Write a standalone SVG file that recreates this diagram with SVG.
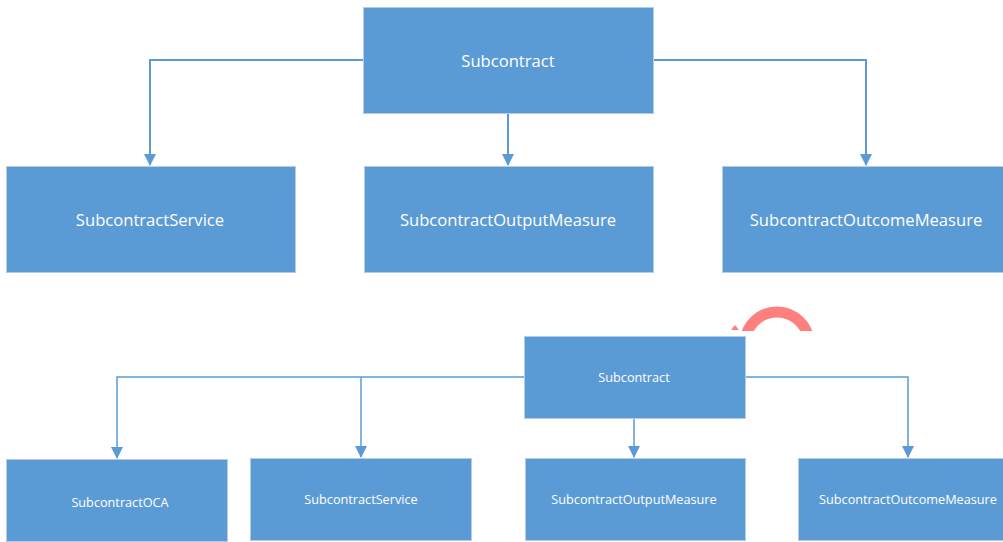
<svg xmlns="http://www.w3.org/2000/svg" width="1003" height="542" viewBox="0 0 1003 542">
<style>
.box{fill:#5B9BD5;stroke:#B4CCE8;stroke-width:1}
.t1{font-family:"Open Sans","Noto Sans",sans-serif;font-size:16.6px;fill:#FFFFFF;text-anchor:middle;dominant-baseline:central}
.t2{font-family:"Open Sans","Noto Sans",sans-serif;font-size:12.7px;fill:#FFFFFF;text-anchor:middle;dominant-baseline:central}
.c{fill:none;stroke:#5B9BD5;stroke-width:2}
.c2{fill:none;stroke:#5B9BD5;stroke-width:1.5}
</style>
<defs>
<marker id="b" markerWidth="12" markerHeight="12" refX="11" refY="6" orient="auto" markerUnits="userSpaceOnUse">
<path d="M0,0 L12,6 L0,12 Z" fill="#5B9BD5"/>
</marker>
<clipPath id="cl"><rect x="700" y="290" width="140" height="41"/></clipPath>
</defs>
<rect width="1003" height="542" fill="#FFFFFF"/>
<g clip-path="url(#cl)">
<circle cx="777" cy="344" r="32" fill="none" stroke="#FF7F7F" stroke-width="11"/>
</g>
<path d="M731,330 L735,325 L739,330 Z" fill="#FF7F7F"/>
<g id="connectors">
<path class="c" d="M363,60 H150 V165" marker-end="url(#b)"/>
<path class="c" d="M508,113 V165" marker-end="url(#b)"/>
<path class="c" d="M653,60 H866 V165" marker-end="url(#b)"/>
<path class="c2" d="M524,377 H117 V458" marker-end="url(#b)"/>
<path class="c2" d="M361,377 V457" marker-end="url(#b)"/>
<path class="c2" d="M634,418 V457" marker-end="url(#b)"/>
<path class="c2" d="M745,377 H908 V457" marker-end="url(#b)"/>
</g>
<g id="n1"><rect class="box" x="363.5" y="7.5" width="290" height="106"/><text class="t1" x="508" y="60">Subcontract</text></g>
<g id="n2"><rect class="box" x="6.5" y="166.5" width="289" height="106"/><text class="t1" x="150" y="219">SubcontractService</text></g>
<g id="n3"><rect class="box" x="364.5" y="166.5" width="289" height="106"/><text class="t1" x="508" y="219">SubcontractOutputMeasure</text></g>
<g id="n4"><rect class="box" x="722.5" y="166.5" width="285" height="106"/><text class="t1" x="866" y="219">SubcontractOutcomeMeasure</text></g>
<g id="n5"><rect class="box" x="524.5" y="336.5" width="221" height="82"/><text class="t2" x="634" y="377">Subcontract</text></g>
<g id="n6"><rect class="box" x="6.5" y="459.5" width="221" height="82"/><text class="t2" x="120" y="502">SubcontractOCA</text></g>
<g id="n7"><rect class="box" x="250.5" y="458.5" width="221" height="82"/><text class="t2" x="361" y="499">SubcontractService</text></g>
<g id="n8"><rect class="box" x="525.5" y="458.5" width="220" height="82"/><text class="t2" x="634" y="499">SubcontractOutputMeasure</text></g>
<g id="n9"><rect class="box" x="798.5" y="458.5" width="210" height="82"/><text class="t2" x="908" y="499">SubcontractOutcomeMeasure</text></g>
</svg>
